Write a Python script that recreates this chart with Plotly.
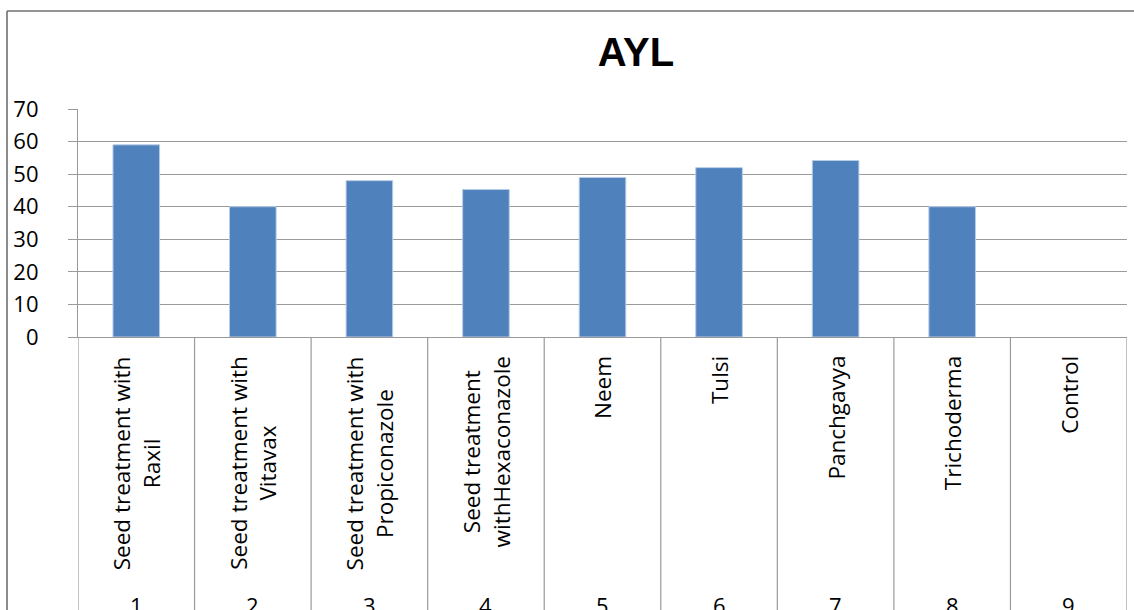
import plotly.graph_objects as go

# AYL by seed / plant-extract treatment
treatments = [
    "Seed treatment with<br>Raxil",
    "Seed treatment with<br>Vitavax",
    "Seed treatment with<br>Propiconazole",
    "Seed treatment<br>withHexaconazole",
    "Neem",
    "Tulsi",
    "Panchgavya",
    "Trichoderma",
    "Control",
]
treatment_no = ["1", "2", "3", "4", "5", "6", "7", "8", "9"]
ayl = [59, 40, 48, 45.3, 49, 52, 54.2, 40, 0]

W, H = 1134, 610
L, R, T, B = 78, 7, 109, 273
plot_h = H - T - B
plot_w = W - L - R

GRID = "#9a9a9a"
FRAME = "#707070"
FONT = "Open Sans"

positions = list(range(1, len(ayl) + 1))

fig = go.Figure(
    go.Bar(
        x=positions,
        y=ayl,
        width=0.4,
        marker=dict(
            color="#4f81bd",
            line=dict(color="#b9cde5", width=[1 if v > 0 else 0 for v in ayl]),
        ),
        hoverinfo="skip",
    )
)


def py(px_from_top):
    """Pixel row (from top of page) to paper y."""
    return (H - B - px_from_top) / plot_h


def px(px_from_left):
    return (px_from_left - L) / plot_w


shapes = []
# chart frame (left and top edges; the rest runs off the page)
shapes.append(dict(type="line", xref="paper", yref="paper",
                   x0=px(7), x1=px(7), y0=py(11), y1=py(H + 20),
                   line=dict(color=FRAME, width=1.6)))
shapes.append(dict(type="line", xref="paper", yref="paper",
                   x0=px(7), x1=px(W + 20), y0=py(11), y1=py(11),
                   line=dict(color=FRAME, width=1.6)))
# category dividers below the axis
for k in range(len(ayl) + 1):
    shapes.append(dict(type="line", xref="x", yref="paper",
                       x0=k + 0.5, x1=k + 0.5, y0=0, y1=py(H + 20),
                       line=dict(color=GRID, width=1.2)))

annotations = []
for pos, name, num in zip(positions, treatments, treatment_no):
    annotations.append(dict(
        x=pos, xref="x", y=py(354), yref="paper",
        text=name, textangle=-90, showarrow=False,
        xanchor="center", yanchor="top", align="center",
        font=dict(family=FONT, size=22.5, color="#000000"),
    ))
    annotations.append(dict(
        x=pos, xref="x", y=py(605), yref="paper",
        text=num, showarrow=False,
        xanchor="center", yanchor="middle",
        font=dict(family=FONT, size=22, color="#000000"),
    ))

fig.update_layout(
    width=W, height=H,
    margin=dict(l=L, r=R, t=T, b=B, pad=0),
    paper_bgcolor="white", plot_bgcolor="white",
    showlegend=False,
    title=dict(
        text="<b>AYL</b>", x=636 / W, xanchor="center", xref="container",
        y=1 - 52 / H, yanchor="middle", yref="container",
        font=dict(family="Liberation Sans", size=40, color="#000000"),
    ),
    xaxis=dict(
        range=[0.5, len(ayl) + 0.5],
        showticklabels=False, ticks="", showgrid=False, zeroline=False,
        showline=True, linecolor=GRID, linewidth=1.2,
        fixedrange=True,
    ),
    yaxis=dict(
        range=[0, 70], dtick=10, tick0=0,
        showgrid=True, gridcolor=GRID, gridwidth=1.2,
        zeroline=False,
        showline=True, linecolor=GRID, linewidth=1.2,
        ticks="outside", ticklen=9, tickcolor=GRID, tickwidth=1.2,
        ticklabelstandoff=25,
        tickfont=dict(family=FONT, size=22, color="#000000"),
        fixedrange=True,
    ),
    shapes=shapes,
    annotations=annotations,
)

fig.write_html("out.html")
